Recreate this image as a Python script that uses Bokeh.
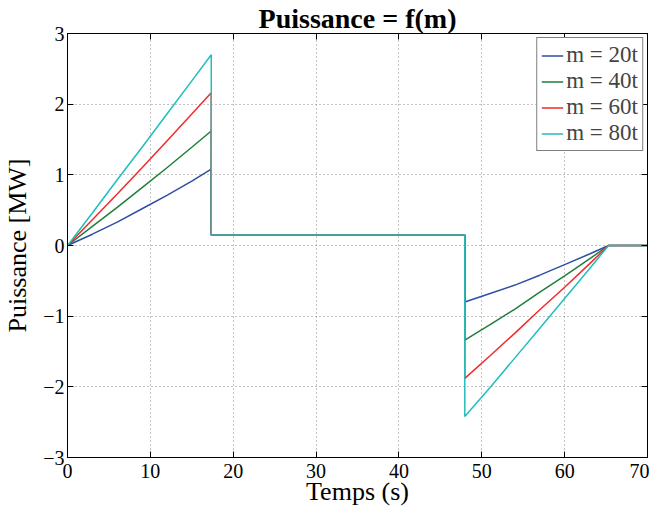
from bokeh.plotting import figure
from bokeh.models import LinearAxis, Legend, LegendItem, FixedTicker, Range1d
from bokeh.embed import file_html
from bokeh.resources import INLINE

# Data
t = [0, 3, 6, 9, 12, 15, 17.35, 17.35, 47.95, 47.95, 51, 54, 57, 60, 63, 65.3, 70]
p_m20 = [0, 0.16, 0.33, 0.52, 0.71, 0.91, 1.08, 0.15, 0.15,
         -0.80, -0.68, -0.56, -0.42, -0.27, -0.12, 0, 0]
p_m40 = [0, 0.27, 0.54, 0.82, 1.10, 1.39, 1.62, 0.15, 0.15,
         -1.34, -1.12, -0.90, -0.66, -0.43, -0.19, 0, 0]
p_m60 = [0, 0.365, 0.73, 1.10, 1.48, 1.86, 2.16, 0.15, 0.15,
         -1.88, -1.56, -1.24, -0.91, -0.59, -0.26, 0, 0]
p_m80 = [0, 0.46, 0.93, 1.39, 1.86, 2.33, 2.70, 0.15, 0.15,
         -2.42, -2.01, -1.59, -1.17, -0.75, -0.33, 0, 0]
labels = ["m = 20t", "m = 40t", "m = 60t", "m = 80t"]
colors = ["#2f4fa6", "#1e7f3c", "#f22a2a", "#22bdbd"]
xticks = [0, 10, 20, 30, 40, 50, 60, 70]
yticks = [-3, -2, -1, 0, 1, 2, 3]

FONT = "Liberation Serif"

p = figure(width=649, height=508, output_backend="svg",
           toolbar_location=None, x_range=Range1d(0, 70), y_range=Range1d(-3, 3),
           min_border_left=58, min_border_right=2, min_border_top=25,
           min_border_bottom=47, title="Puissance = f(m)")
p.title.align = "center"
p.title.text_font = FONT
p.title.text_font_size = "28px"
p.title.text_font_style = "bold"
p.title.text_color = "black"
p.title.standoff = 0
p.title.offset = 0

p.outline_line_color = "black"
p.outline_line_width = 1

renderers = []
for ys, c in zip([p_m20, p_m40, p_m60, p_m80], colors):
    r = p.line(t, ys, line_color=c, line_width=1.5)
    renderers.append(r)

for ax in (p.xaxis[0], p.yaxis[0]):
    ax.major_tick_in = 6
    ax.major_tick_out = 0
    ax.minor_tick_in = 0
    ax.minor_tick_out = 0
    ax.major_label_text_font = FONT
    ax.major_label_text_font_size = "20px"
    ax.major_label_text_color = "black"
    ax.axis_label_text_font = FONT
    ax.axis_label_text_font_size = "26px"
    ax.axis_label_text_font_style = "normal"
    ax.axis_label_text_color = "black"
    ax.axis_line_color = "black"
    ax.major_tick_line_color = "black"

p.xaxis[0].ticker = FixedTicker(ticks=xticks)
p.yaxis[0].ticker = FixedTicker(ticks=yticks)
p.yaxis[0].major_label_overrides = {v: (("\u2212" + str(-v)) if v < 0 else str(v)) for v in yticks}
p.xaxis[0].axis_label = "Temps (s)"
p.yaxis[0].axis_label = "Puissance [MW]"
p.xaxis[0].major_label_standoff = 6
p.xaxis[0].axis_label_standoff = -4
p.yaxis[0].major_label_standoff = 3
p.yaxis[0].axis_label_standoff = 8

for loc, tk in (("right", yticks), ("above", xticks)):
    a = LinearAxis(ticker=FixedTicker(ticks=tk),
                   major_label_overrides={v: "" for v in tk},
                   major_label_text_font_size="1px",
                   major_tick_in=6, major_tick_out=0, minor_tick_in=0, minor_tick_out=0,
                   axis_line_color="black", major_tick_line_color="black",
                   major_label_standoff=0)
    p.add_layout(a, loc)

for g in (p.xgrid[0], p.ygrid[0]):
    g.grid_line_color = "#888888"
    g.grid_line_dash = "1 3"
    g.grid_line_width = 1
p.xgrid[0].ticker = FixedTicker(ticks=xticks)
p.ygrid[0].ticker = FixedTicker(ticks=yticks)

legend = Legend(items=[LegendItem(label=l, renderers=[r]) for l, r in zip(labels, renderers)],
                location="top_right")
legend.label_text_font = FONT
legend.label_text_font_size = "23px"
legend.border_line_color = "black"
legend.border_line_width = 1
legend.background_fill_alpha = 1
legend.glyph_width = 22
legend.label_standoff = 3
legend.spacing = 0
legend.padding = 4
legend.margin = 4
legend.label_height = 25
legend.glyph_height = 25
p.add_layout(legend)

open("out.html", "w").write(file_html(p, INLINE))
